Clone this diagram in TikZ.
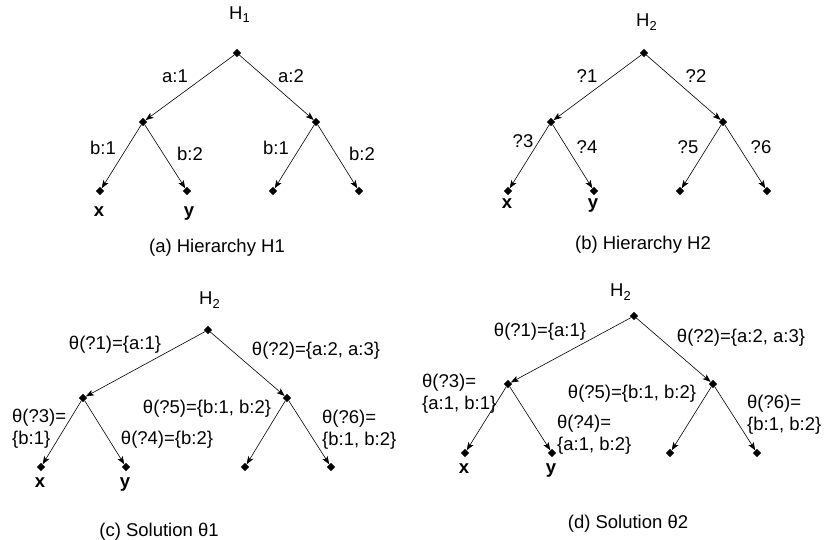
\documentclass[tikz,border=0pt]{standalone}
\usepackage{fontspec}
\setmainfont{Liberation Sans}
\usepackage{tikz}
\usetikzlibrary{shapes.geometric, arrows.meta, positioning}
\tikzset{
  font=\fontsize{18.5}{22}\selectfont,
  treenode/.style={diamond, fill=black, inner sep=0pt, minimum size=8.5pt},
  treeedge/.style={
    draw=black, line width=0.6pt,
    -{Stealth[length=8pt, width=6pt, inset=2pt]}
  },
  edgelabel/.style={inner sep=0pt},
  pairlabel/.style={inner sep=0pt, align=left, anchor=west},
  leaflabel/.style={inner sep=0pt, anchor=base, font=\fontsize{18.5}{22}\selectfont\bfseries},
  treetitle/.style={inner sep=0pt, anchor=base west},
  captionlabel/.style={inner sep=0pt}
}

\begin{document}
\begin{tikzpicture}[x=1pt, y=-1pt]
  \useasboundingbox (0,0) rectangle (825,540);

  % (a) Hierarchy H1
  \node[treetitle] (ta) at (229,20) {H\textsubscript{1}};
  \node[treenode] (a0) at (237,53) {};
  \node[treenode] (a1) at (143,122) {};
  \node[treenode] (a2) at (316,122) {};
  \node[treenode] (a3) at (100,191) {};
  \node[treenode] (a4) at (187,191) {};
  \node[treenode] (a5) at (273,191) {};
  \node[treenode] (a6) at (359,191) {};
  \node[edgelabel] (la1) at (175,76) {a:1};
  \node[edgelabel] (la2) at (291,76) {a:2};
  \node[edgelabel] (la3) at (103,148) {b:1};
  \node[edgelabel] (la4) at (190,154) {b:2};
  \node[edgelabel] (la5) at (276,148) {b:1};
  \node[edgelabel] (la6) at (362,154) {b:2};
  \node[leaflabel] (xa) at (99,217) {x};
  \node[leaflabel] (ya) at (189,217) {y};
  \node[captionlabel] (ca) at (217,248) {(a) Hierarchy H1};

  % (b) Hierarchy H2
  \node[treetitle] (tb) at (636,27) {H\textsubscript{2}};
  \node[treenode] (b0) at (644,53) {};
  \node[treenode] (b1) at (551,122) {};
  \node[treenode] (b2) at (723,122) {};
  \node[treenode] (b3) at (508,191) {};
  \node[treenode] (b4) at (594,191) {};
  \node[treenode] (b5) at (680,191) {};
  \node[treenode] (b6) at (767,191) {};
  \node[edgelabel] (lb1) at (587,76) {?1};
  \node[edgelabel] (lb2) at (696,76) {?2};
  \node[edgelabel] (lb3) at (523,141) {?3};
  \node[edgelabel] (lb4) at (587,147) {?4};
  \node[edgelabel] (lb5) at (688,147) {?5};
  \node[edgelabel] (lb6) at (761,147) {?6};
  \node[leaflabel] (xb) at (507,209) {x};
  \node[leaflabel] (yb) at (593,209) {y};
  \node[captionlabel] (cb) at (643,245) {(b) Hierarchy H2};

  % (c) Solution theta1
  \node[treetitle] (tc) at (199,305) {H\textsubscript{2}};
  \node[treenode] (c0) at (208,330) {};
  \node[treenode] (c1) at (83,398) {};
  \node[treenode] (c2) at (287,398) {};
  \node[treenode] (c3) at (41,467) {};
  \node[treenode] (c4) at (126,467) {};
  \node[treenode] (c5) at (245,467) {};
  \node[treenode] (c6) at (331,467) {};
  \node[edgelabel] (lc1) at (115,345) {θ(?1)=\{a:1\}};
  \node[edgelabel] (lc2) at (316,351) {θ(?2)=\{a:2, a:3\}};
  \node[pairlabel] (lc3) at (12,429) {θ(?3)=\\\{b:1\}};
  \node[edgelabel] (lc4) at (167,440) {θ(?4)=\{b:2\}};
  \node[edgelabel] (lc5) at (207,409) {θ(?5)=\{b:1, b:2\}};
  \node[pairlabel] (lc6) at (322,430) {θ(?6)=\\\{b:1, b:2\}};
  \node[leaflabel] (xc) at (40,487) {x};
  \node[leaflabel] (yc) at (125,487) {y};
  \node[captionlabel] (cc) at (159,532) {(c) Solution θ1};

  % (d) Solution theta2
  \node[treetitle] (td) at (610,297) {H\textsubscript{2}};
  \node[treenode] (d0) at (634,316) {};
  \node[treenode] (d1) at (508,384) {};
  \node[treenode] (d2) at (713,384) {};
  \node[treenode] (d3) at (465,453) {};
  \node[treenode] (d4) at (552,453) {};
  \node[treenode] (d5) at (670,453) {};
  \node[treenode] (d6) at (757,453) {};
  \node[edgelabel] (ld1) at (540,332) {θ(?1)=\{a:1\}};
  \node[edgelabel] (ld2) at (741,338) {θ(?2)=\{a:2, a:3\}};
  \node[pairlabel] (ld3) at (422,394) {θ(?3)=\\\{a:1, b:1\}};
  \node[pairlabel] (ld4) at (557,435) {θ(?4)=\\\{a:1, b:2\}};
  \node[edgelabel] (ld5) at (632,394) {θ(?5)=\{b:1, b:2\}};
  \node[pairlabel] (ld6) at (747,415) {θ(?6)=\\\{b:1, b:2\}};
  \node[leaflabel] (xd) at (464,473) {x};
  \node[leaflabel] (yd) at (551,473) {y};
  \node[captionlabel] (cd) at (628,524) {(d) Solution θ2};

  % tree edges, same shape in every panel
  \foreach \p in {a,b,c,d}
    \foreach \u/\v in {0/1, 0/2, 1/3, 1/4, 2/5, 2/6}
      \draw[treeedge] (\p\u) -- (\p\v);
\end{tikzpicture}
\end{document}
